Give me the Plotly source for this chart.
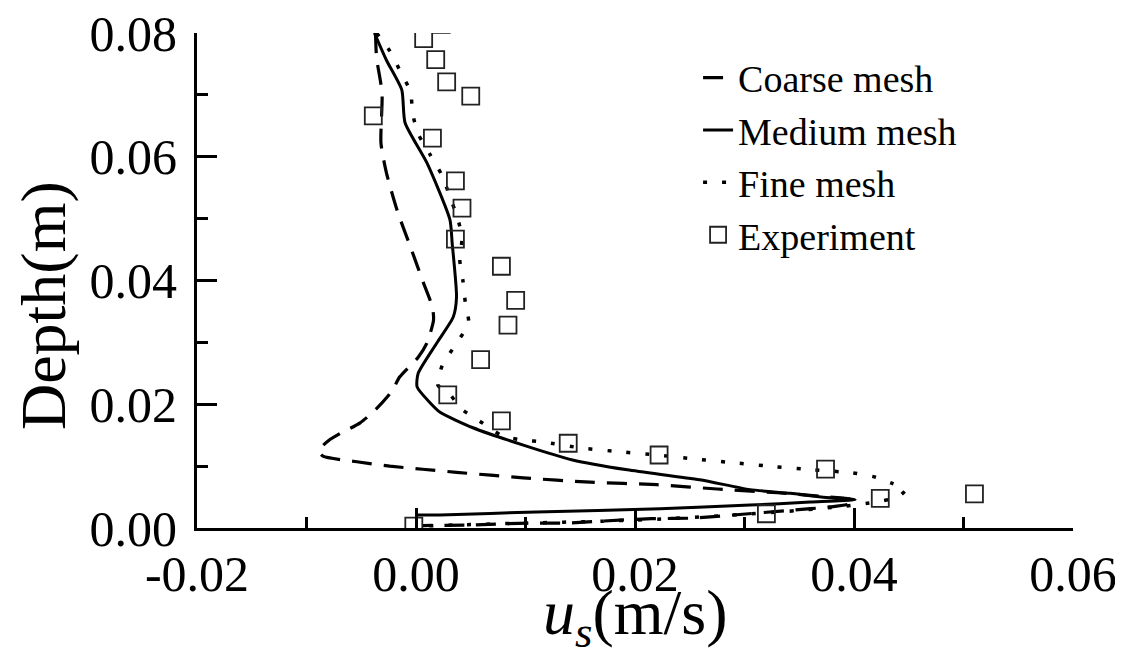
import plotly.graph_objects as go

# ---------------- data ----------------
coarse_u = [-0.0037, -0.0036, -0.0031, -0.0032, -0.0027, -0.0017, -0.0005, 0.0006, 0.0015, 0.0016,
            0.0010, 0.0002, -0.0015, -0.0022, -0.0037, -0.0051, -0.0069, -0.0080, -0.0089, -0.0085,
            -0.0054, -0.0024, 0.0006, 0.0037, 0.0098, 0.0159, 0.0220, 0.0275, 0.0330, 0.0370,
            0.0400, 0.0396, 0.0378, 0.0344, 0.0290, 0.0253, 0.0215, 0.0168, 0.0138, 0.0104,
            0.0052, 0.0006]
coarse_d = [0.0800, 0.0760, 0.0703, 0.0622, 0.0574, 0.0512, 0.0454, 0.0400, 0.0357, 0.0336,
            0.0299, 0.0276, 0.0244, 0.0221, 0.0191, 0.0170, 0.0153, 0.0141, 0.0125, 0.0116,
            0.0107, 0.0100, 0.0095, 0.0090, 0.0081, 0.0074, 0.0070, 0.0063, 0.0057, 0.0051,
            0.0045, 0.0039, 0.0034, 0.0029, 0.0021, 0.0016, 0.0015, 0.0011, 0.0008, 0.0008,
            0.0005, 0.0004]

medium_u = [-0.0038, -0.0027, -0.0013, -0.0010, 0.0010, 0.0031, 0.0033, 0.0037, 0.0034, 0.0019,
            0.0002, 0.0001, 0.0013, 0.0022, 0.0052, 0.0098, 0.0143, 0.0193, 0.0259, 0.0305,
            0.0342, 0.0370, 0.0401, 0.0360, 0.0305, 0.0223, 0.0110, 0.0022, 0.0000]
medium_d = [0.0800, 0.0756, 0.0708, 0.0655, 0.0590, 0.0498, 0.0461, 0.0373, 0.0341, 0.0299,
            0.0250, 0.0228, 0.0202, 0.0187, 0.0162, 0.0134, 0.0110, 0.0094, 0.0078, 0.0062,
            0.0056, 0.0050, 0.0046, 0.0042, 0.0037, 0.0031, 0.0026, 0.0021, 0.0021]

fine_u = [-0.0036, -0.0024, -0.0014, -0.0005, -0.0003, 0.0002, 0.0013, 0.0024, 0.0031, 0.0038,
          0.0042, 0.0040, 0.0043, 0.0045, 0.0048, 0.0036, 0.0024, 0.0020, 0.0031, 0.0041,
          0.0058, 0.0079, 0.0098, 0.0116, 0.0152, 0.0188, 0.0220, 0.0258, 0.0293, 0.0328,
          0.0363, 0.0399, 0.0420, 0.0435, 0.0447, 0.0440, 0.0420, 0.0390, 0.0340, 0.0290,
          0.0230, 0.0170, 0.0100, 0.0040, 0.0000]
fine_d = [0.0800, 0.0771, 0.0737, 0.0705, 0.0669, 0.0637, 0.0603, 0.0569, 0.0535, 0.0501,
          0.0469, 0.0433, 0.0398, 0.0365, 0.0331, 0.0296, 0.0263, 0.0231, 0.0216, 0.0193,
          0.0173, 0.0149, 0.0142, 0.0139, 0.0129, 0.0123, 0.0118, 0.0111, 0.0105, 0.0099,
          0.0094, 0.0089, 0.0082, 0.0072, 0.0062, 0.0050, 0.0042, 0.0035, 0.0027, 0.0021,
          0.0015, 0.0011, 0.0008, 0.0005, 0.0003]

exp_u = [0.0007, 0.0023, 0.0018, 0.0028, 0.0050, -0.0039, 0.0015, 0.0036, 0.0042, 0.0036,
         0.0078, 0.0091, 0.0084, 0.0059, 0.0029, 0.0078, 0.0139, 0.0222, 0.0374, 0.0424,
         0.0510, 0.0320, -0.0002]
exp_d = [0.0791, 0.0814, 0.0757, 0.0721, 0.0698, 0.0666, 0.0630, 0.0561, 0.0517, 0.0467,
         0.0423, 0.0368, 0.0328, 0.0272, 0.0215, 0.0173, 0.0137, 0.0118, 0.0095, 0.0048,
         0.0055, 0.0023, 0.0003]

x_ticks = [-0.02, 0.00, 0.02, 0.04, 0.06]
x_labels = ["-0.02", "0.00", "0.02", "0.04", "0.06"]
y_ticks = [0.00, 0.02, 0.04, 0.06, 0.08]
y_labels = ["0.00", "0.02", "0.04", "0.06", "0.08"]

names = ["Coarse mesh", "Medium mesh", "Fine mesh", "Experiment"]

# ---------------- figure ----------------
FONT = "Liberation Serif, Times New Roman, serif"

fig = go.Figure()
fig.add_trace(go.Scatter(x=coarse_u, y=coarse_d, mode="lines", name=names[0],
                         line=dict(color="black", width=3.2, dash="20px,12px",
                                   shape="spline", smoothing=0.6)))
fig.add_trace(go.Scatter(x=medium_u, y=medium_d, mode="lines", name=names[1],
                         line=dict(color="black", width=3, shape="spline", smoothing=0.6)))
fig.add_trace(go.Scatter(x=fine_u, y=fine_d, mode="lines", name=names[2],
                         line=dict(color="black", width=3.5, dash="4px,15px",
                                   shape="spline", smoothing=0.6)))
fig.add_trace(go.Scatter(x=exp_u, y=exp_d, mode="markers", name=names[3],
                         marker=dict(symbol="square-open", size=17, color="#222",
                                     line=dict(width=1.8, color="#222"))))

axis_common = dict(
    showline=True, linewidth=3, linecolor="black", mirror=False,
    showgrid=False, zeroline=False, automargin=False,
    ticks="inside", ticklen=20, tickwidth=3, tickcolor="black",
    ticklabeloverflow="allow",
    tickfont=dict(family=FONT, size=50, color="black"),
)

fig.update_xaxes(range=[-0.02, 0.06], tickmode="array", tickvals=x_ticks, ticktext=x_labels,
                 minor=dict(ticks="inside", ticklen=11, tickwidth=3, tickcolor="black", dtick=0.01,
                            tick0=0, showgrid=False),
                 **axis_common)
fig.update_yaxes(range=[0, 0.08], tickmode="array", tickvals=y_ticks, ticktext=y_labels,
                 ticklabelstandoff=7,
                 minor=dict(ticks="inside", ticklen=11, tickwidth=3, tickcolor="black", dtick=0.01,
                            tick0=0, showgrid=False),
                 **axis_common)

fig.update_layout(
    width=1115, height=653,
    margin=dict(l=189, r=50, t=25, b=133, autoexpand=False),
    paper_bgcolor="white", plot_bgcolor="white",
    font=dict(family=FONT, color="black"),
    legend=dict(x=0.572, y=0.973, xanchor="left", yanchor="top",
                font=dict(family=FONT, size=38, color="black"),
                bgcolor="rgba(0,0,0,0)", tracegroupgap=4),
    showlegend=True,
    annotations=[
        dict(text="Depth(m)", xref="paper", yref="paper", x=-0.176, y=0.45,
             xanchor="center", yanchor="middle", textangle=-90, showarrow=False,
             font=dict(family=FONT, size=64, color="black")),
        dict(text="<i>u</i><sub><i>s</i></sub>(m/s)", xref="paper", yref="paper", x=0.5, y=-0.18,
             xanchor="center", yanchor="middle", showarrow=False,
             font=dict(family=FONT, size=64, color="black")),
    ],
)

fig.write_html("out.html")
